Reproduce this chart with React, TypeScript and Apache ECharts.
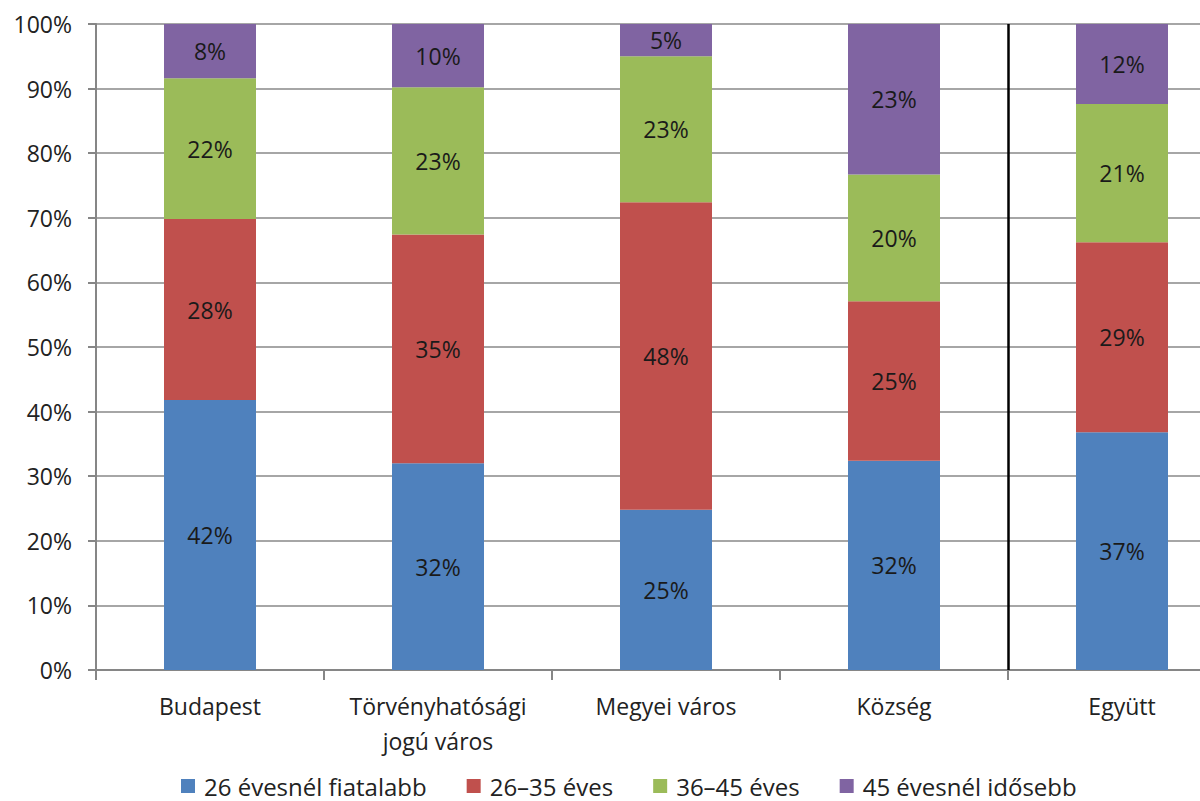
import React, { useEffect, useRef } from "react";
import * as echarts from "echarts";

const categories = ["Budapest", "Törvényhatósági\njogú város", "Megyei város", "Község", "Együtt"];
const seriesNames = ["26 évesnél fiatalabb", "26–35 éves", "36–45 éves", "45 évesnél idősebb"];
const under26 = [41.8, 32.0, 24.8, 32.4, 36.8];
const age26to35 = [28.0, 35.4, 47.6, 24.7, 29.4];
const age36to45 = [21.8, 22.8, 22.6, 19.6, 21.4];
const over45 = [8.4, 9.8, 5.0, 23.3, 12.4];
const yTicks = [0, 10, 20, 30, 40, 50, 60, 70, 80, 90, 100];
const separatorAt = [4]; // boundary between "Község" and "Együtt" (in category-slot units)
const colors = ["#4F81BD", "#C0504D", "#9BBB59", "#8064A2"];

const FONT = "'Open Sans', 'Noto Sans', sans-serif";
const FS = 23;

export default function App() {
  const ref = useRef<HTMLDivElement>(null);
  useEffect(() => {
    if (!ref.current) return;
    const chart = echarts.init(ref.current, null, { renderer: "svg" });
    const dataSets = [under26, age26to35, age36to45, over45];
    const barSeries = seriesNames.map((name, i) => ({
      name,
      type: "bar",
      stack: "total",
      barWidth: 92,
      data: dataSets[i],
      itemStyle: { color: colors[i] },
      label: {
        show: true,
        position: "inside",
        fontFamily: FONT,
        fontSize: FS,
        color: "#1a1a1a",
        formatter: (p: any) => Math.round(p.value) + "%",
      },
    }));
    chart.setOption({
      animation: false,
      backgroundColor: "#ffffff",
      grid: {
        left: 96,
        width: 1140,
        top: 24,
        bottom: 131,
        containLabel: false,
        outerBoundsMode: "none",
      },
      legend: {
        top: 774,
        left: 181,
        padding: 0,
        icon: "rect",
        itemWidth: 14,
        itemHeight: 14,
        itemGap: 40,
        textStyle: {
          fontFamily: FONT,
          fontSize: 24,
          lineHeight: 24,
          color: "#222",
          padding: [0, 0, 0, 4],
        },
        data: seriesNames,
      },
      xAxis: [
        {
          type: "category",
          data: categories,
          axisLine: { lineStyle: { color: "#868686", width: 2 } },
          axisTick: { show: true, length: 10, lineStyle: { color: "#868686", width: 2 } },
          axisLabel: {
            fontFamily: FONT,
            fontSize: FS,
            color: "#222",
            margin: 18,
            lineHeight: 35,
            interval: 0,
          },
        },
        {
          type: "value",
          min: 0,
          max: categories.length,
          show: false,
          position: "bottom",
          splitLine: { show: false },
        },
      ],
      yAxis: {
        type: "value",
        min: yTicks[0],
        max: yTicks[yTicks.length - 1],
        interval: 10,
        axisLine: { show: true, lineStyle: { color: "#868686", width: 2 } },
        axisTick: { show: true, length: 8, lineStyle: { color: "#868686", width: 2 } },
        axisLabel: {
          fontFamily: FONT,
          fontSize: FS,
          color: "#222",
          margin: 24,
          formatter: "{value}%",
        },
        splitLine: { show: true, lineStyle: { color: "#a6a6a6", width: 2 } },
      },
      series: [
        ...barSeries,
        {
          name: "separator",
          type: "line",
          xAxisIndex: 1,
          data: [],
          silent: true,
          markLine: {
            silent: true,
            symbol: "none",
            label: { show: false },
            lineStyle: { color: "#000", width: 2.5, type: "solid" },
            data: separatorAt.map((x) => ({ xAxis: x })),
          },
        },
      ],
    });
    return () => chart.dispose();
  }, []);
  return (
    <div
      ref={ref}
      style={{ position: "absolute", left: 0, top: 0, width: 1200, height: 801, background: "#fff" }}
    />
  );
}
